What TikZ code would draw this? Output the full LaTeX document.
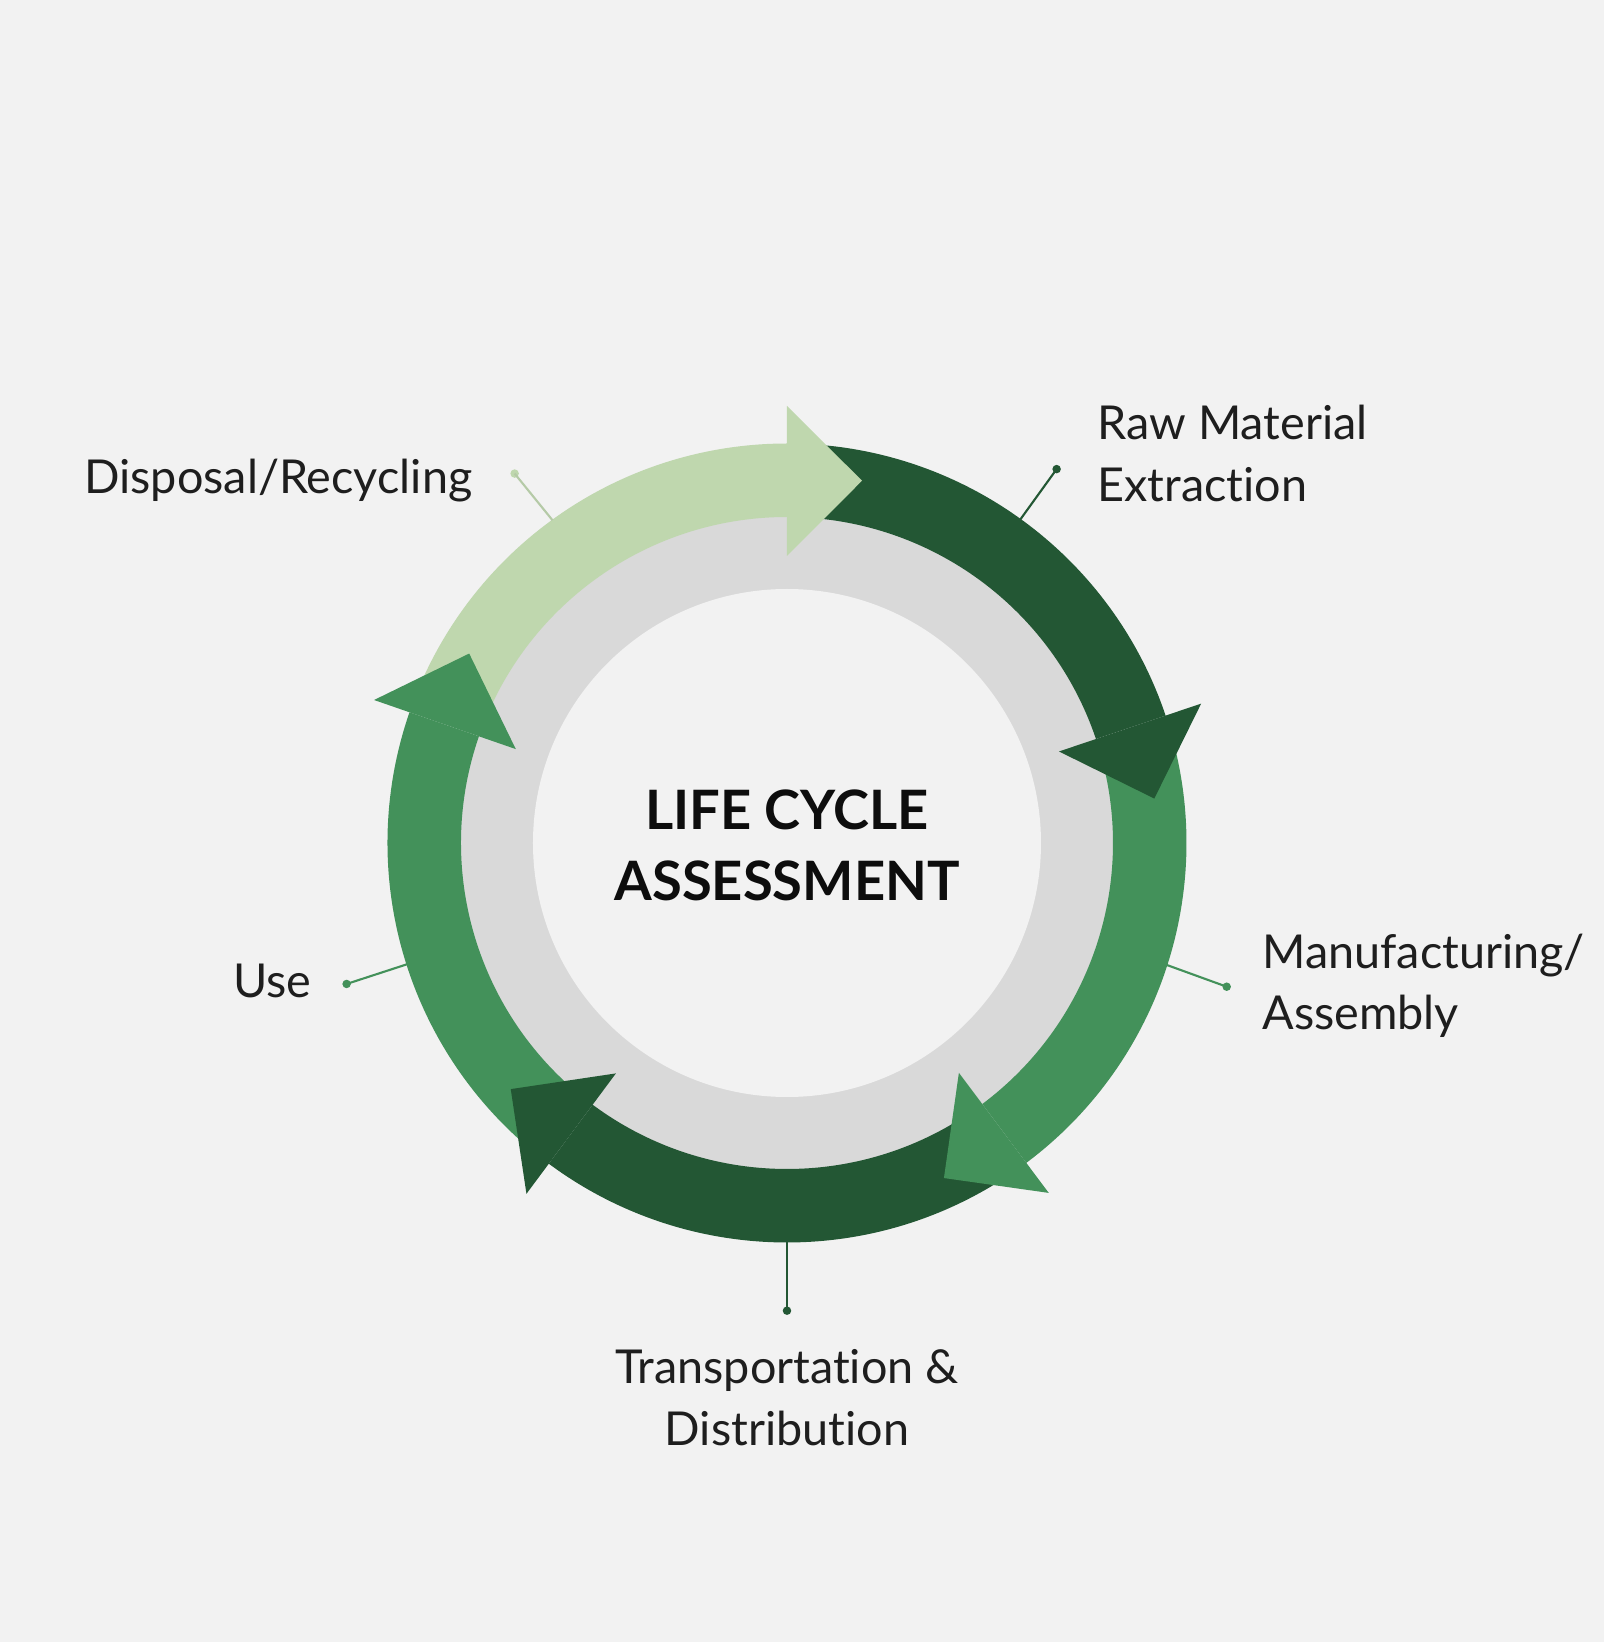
\documentclass[tikz,border=0pt]{standalone}
\usepackage{fontspec}
\setmainfont{Lato}[Ligatures=NoCommon]
\definecolor{bg}{HTML}{F2F2F2}
\definecolor{ringgray}{HTML}{D9D9D9}
\definecolor{lightg}{HTML}{BFD7AE}
\definecolor{darkg}{HTML}{235734}
\definecolor{medg}{HTML}{43915A}
\definecolor{txt}{HTML}{1E1E1E}
\tikzset{
  lbl/.style={text=txt, font=\fontsize{13.3}{17.6}\selectfont, inner sep=0pt},
  ttl/.style={text=black!95, font=\fontsize{15.45}{20.3}\selectfont\bfseries, inner sep=0pt, align=center},
  leader/.style={line width=0.6pt},
  dotmark/.style={circle, inner sep=0pt, minimum size=0.085cm}
}
\begin{document}
\begin{tikzpicture}
\fill[bg] (-7.87,-7.99) rectangle (8.17,8.43);
\useasboundingbox (-7.87,-7.99) rectangle (8.17,8.43);
% rings
\fill[ringgray] (0,0) circle (3.27);
\fill[bg] (0,0) circle (2.54);
% arrow bands: tip angle, previous tip angle, colour
\foreach \t/\p/\c in {78.3/-210.8/lightg, 6.9/78.3/darkg, -64.9/6.9/medg, -138.3/-64.9/darkg, -210.8/-138.3/medg}{
  \pgfmathsetmacro{\s}{\p+9}
  \pgfmathsetmacro{\b}{\t+11.7}
  \ifdim\s pt<\b pt \pgfmathsetmacro{\s}{\s+360}\fi
  \fill[\c] (\s:3.995) arc[start angle=\s, end angle=\b, radius=3.995]
     -- (\b:3.26) arc[start angle=\b, end angle=\s, radius=3.26] -- cycle;
}
% arrow heads
\foreach \t/\c in {78.3/lightg, 6.9/darkg, -64.9/medg, -138.3/darkg, -210.8/medg}{
  \pgfmathsetmacro{\b}{\t+11.7}
  \fill[\c] (\b:4.37) -- (\t:3.70) -- (\b:2.87) -- cycle;
}
% title
\node[ttl, anchor=base] (title) at (0,-0.577) {LIFE CYCLE\\ASSESSMENT};
% leader lines
\coordinate (dA) at (126:3.99);  \node[dotmark, fill=lightg] (dAe) at (126.4:4.59) {};
\coordinate (rA) at (54.2:3.99); \node[dotmark, fill=darkg] (rAe) at (54.2:4.61) {};
\coordinate (mA) at (-17.8:3.98); \node[dotmark, fill=medg] (mAe) at (-18.1:4.626) {};
\coordinate (tA) at (-90:3.99);  \node[dotmark, fill=darkg] (tAe) at (-90:4.677) {};
\coordinate (uA) at (197.7:3.98); \node[dotmark, fill=medg] (uAe) at (197.75:4.624) {};
\draw[leader, draw=lightg!85!gray] (dA) -- (dAe.center);
\draw[leader, draw=darkg] (rA) -- (rAe.center);
\draw[leader, draw=medg] (mA) -- (mAe.center);
\draw[leader, draw=darkg] (tA) -- (tAe.center);
\draw[leader, draw=medg] (uA) -- (uAe.center);
% labels (base anchor = baseline of last line)
\node[lbl, anchor=base east] (disp) at (-3.14,3.49) {Disposal/Recycling};
\node[lbl, anchor=base west, align=left] (raw) at (3.097,3.413) {Raw Material\\Extraction};
\node[lbl, anchor=base west, align=left] (manu) at (4.747,-1.87) {Manufacturing/\\Assembly};
\node[lbl, anchor=base, align=center] (trans) at (0,-6.027) {Transportation \&\\Distribution};
\node[lbl, anchor=base east] (use) at (-4.75,-1.54) {Use};
\end{tikzpicture}
\end{document}
